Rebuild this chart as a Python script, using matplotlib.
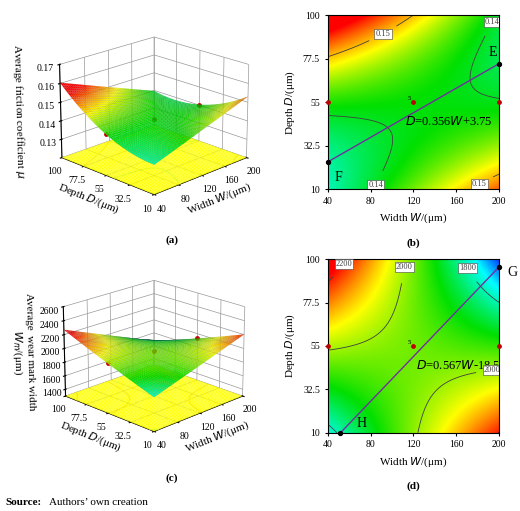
import numpy as np
import matplotlib
matplotlib.use("Agg")
import matplotlib.pyplot as plt
from matplotlib.colors import LinearSegmentedColormap, Normalize

plt.rcParams['font.family'] = ['Liberation Serif', 'DejaVu Serif']

W_levels = [40, 120, 200]
D_levels = [10, 55, 100]
# friction coefficient at design points, rows D (10,55,100), cols W (40,120,200)
mu_grid = [[0.1345, 0.145, 0.1530],
           [0.142, 0.142, 0.139],
           [0.161, 0.148, 0.1410]]
wear_grid = [[1780, 1990, 2200],
             [2000, 1980, 1930],
             [2280, 1960, 1680]]
W_ticks = [40, 80, 120, 160, 200]
D_ticks = [10, 32.5, 55, 77.5, 100]
mu_levels = [0.14, 0.15, 0.16]
wear_levels = [1800, 2000, 2200]
colors = ['#0040ff', '#00ffff', '#00e000', '#ffff00', '#ff0000']
mu_anchor = [0.126, 0.133, 0.141, 0.148, 0.156]
wear_anchor = [1680, 1760, 1900, 2060, 2220]

def make_cmap(anchor):
    lo, hi = anchor[0], anchor[-1]
    pos = [(a-lo)/(hi-lo) for a in anchor]
    return LinearSegmentedColormap.from_list('rsm', list(zip(pos, colors))), lo, hi

def fit(grid):
    X, Y = np.meshgrid(W_levels, D_levels)
    x = (X.ravel()-120)/80; y = (Y.ravel()-55)/45
    A = np.column_stack([np.ones_like(x), x, y, x*y, x**2, y**2])
    c, *_ = np.linalg.lstsq(A, np.array(grid, float).ravel(), rcond=None)
    def f(W, D):
        x = (W-120)/80; y = (D-55)/45
        return c[0]+c[1]*x+c[2]*y+c[3]*x*y+c[4]*x**2+c[5]*y**2
    return f

fmu = fit(mu_grid); fwear = fit(wear_grid)
Wg, Dg = np.meshgrid(np.linspace(40, 200, 50), np.linspace(10, 100, 50))

fig = plt.figure(figsize=(5.2, 5.11), dpi=100)

def surf(rect, f, zlim, zticks, zlabel, anchor, levels, label, ly):
    cmap, vmin, vmax = make_cmap(anchor)
    ax = fig.add_axes(rect, projection='3d')
    Z = f(Wg, Dg)
    z0 = zlim[0]
    ax.plot_surface(Wg, Dg, np.full_like(Z, z0), color='#ffff00', shade=False)
    ax.contour(Wg, Dg, Z, levels=levels, zdir='z', offset=z0, colors=['#40e0a0', '#e0a040', '#e06020'], linewidths=0.6)
    ax.plot_surface(Wg, Dg, Z, cmap=cmap, vmin=vmin, vmax=vmax, rstride=1, cstride=1,
                    edgecolor=(0, 0, 0, 0.15), linewidth=0.2)
    ax.scatter([40, 120, 200], [55, 55, 55], [f(40, 55), f(120, 55), f(200, 55)], color='#c00000', s=6, depthshade=False)
    ax.set_xlim(40, 200); ax.set_ylim(10, 100); ax.set_zlim(*zlim)
    ax.set_xticks(W_ticks); ax.set_yticks(D_ticks); ax.set_zticks(zticks)
    ax.set_yticklabels(['10', '32.5', '55', '77.5', '100'])
    ax.tick_params(labelsize=7, pad=-1)
    ax.set_xlabel('Width $W$/(μm)', fontsize=8, labelpad=-4)
    ax.set_ylabel('Depth $D$/(μm)', fontsize=8, labelpad=-4)
    ax.set_zlabel(zlabel, fontsize=8, labelpad=0)
    ax.view_init(elev=20, azim=-135)
    ax.set_box_aspect(None, zoom=0.82)
    for a in (ax.xaxis, ax.yaxis, ax.zaxis):
        a.set_pane_color((1, 1, 1, 0))
        a._axinfo['grid']['color'] = (0.6, 0.6, 0.6, 1)
        a._axinfo['grid']['linewidth'] = 0.5
    fig.text(0.33, ly, label, ha='center', fontsize=8, fontweight='bold')
    return ax

def cont(rect, f, anchor, levels, fmt, p1, p2, eqtext, eqpos, labs, label):
    cmap, vmin, vmax = make_cmap(anchor)
    ax = fig.add_axes(rect)
    Wf, Df = np.meshgrid(np.linspace(40, 200, 200), np.linspace(10, 100, 200))
    Z = f(Wf, Df)
    ax.imshow(Z, extent=[40, 200, 10, 100], origin='lower', aspect='auto', cmap=cmap, vmin=vmin, vmax=vmax)
    cs = ax.contour(Wf, Df, Z, levels=levels, colors='#404040', linewidths=0.6)
    tl = ax.clabel(cs, fmt=fmt, fontsize=6, inline=True, inline_spacing=8)
    for t in tl:
        t.set_rotation(0)
        t.set_bbox(dict(facecolor='white', edgecolor='#404040', pad=0.8, linewidth=0.4))
    ax.plot([p1[0], p2[0]], [p1[1], p2[1]], color='#7030a0', lw=1)
    ax.scatter([p1[0], p2[0]], [p1[1], p2[1]], color='black', s=8, zorder=5, clip_on=False)
    ax.scatter([40, 120, 200], [55, 55, 55], color='#c00000', s=6, zorder=5, clip_on=False)
    ax.text(118, 56, '5', fontsize=5, ha='right')
    ax.text(*eqpos, eqtext, fontsize=9)
    for (x, y, s) in labs:
        ax.text(x, y, s, fontsize=10, ha='center', va='center', clip_on=False)
    ax.set_xlim(40, 200); ax.set_ylim(10, 100)
    ax.set_xticks(W_ticks); ax.set_yticks(D_ticks)
    ax.set_yticklabels(['10', '32.5', '55', '77.5', '100'])
    ax.tick_params(labelsize=7, length=2)
    ax.set_xlabel('Width $W$/(μm)', fontsize=8)
    ax.set_ylabel('Depth $D$/(μm)', fontsize=8)
    fig.text(rect[0]+rect[2]/2, rect[1]-0.11, label, ha='center', fontsize=8, fontweight='bold')

surf([-0.04, 0.53, 0.66, 0.49], fmu, (0.12, 0.17), [0.13, 0.14, 0.15, 0.16, 0.17],
     'Average friction coefficient $\\mu$', mu_anchor, mu_levels, '(a)', 0.525)
surf([-0.04, 0.07, 0.66, 0.47], fwear, (1300, 2600), [1400, 1600, 1800, 2000, 2200, 2400, 2600],
     'Average  wear mark width\n$W_{m}$/(μm)', wear_anchor, wear_levels, '(c)', 0.06)
cont([0.63, 0.63, 0.33, 0.34], fmu, mu_anchor, mu_levels, lambda v: f'{v:.2f}',
     (40, 24), (200, 75), '$D$=0.356$W$+3.75', (112, 43), [(50, 16, 'F'), (194, 81, 'E')], '(b)')
cont([0.63, 0.153, 0.33, 0.34], fwear, wear_anchor, wear_levels, lambda v: f'{v:.0f}',
     (52, 10), (200, 96), '$D$=0.567$W$-18.5', (122, 43), [(72, 15, 'H'), (212, 93, 'G')], '(d)')
fig.text(0.01, 0.012, 'Source:', fontsize=8, fontweight='bold')
fig.text(0.095, 0.012, 'Authors’ own creation', fontsize=8)
fig.savefig('out.png', dpi=100)
